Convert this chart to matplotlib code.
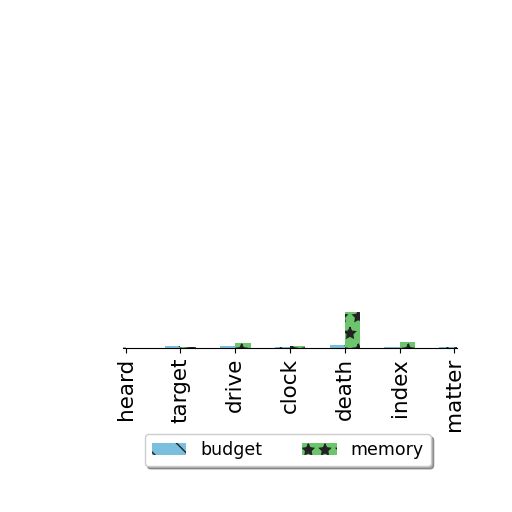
import matplotlib
matplotlib.use("Agg")
import matplotlib.pyplot as plt
import numpy as np

categories = ["heard", "target", "drive", "clock", "death", "index", "matter"]
budget = [0.2, 0.4, 0.5, 0.3, 0.6, 0.3, 0.2]
memory = [0.1, 0.3, 1.0, 0.4, 7.5, 1.2, 0.2]

fig = plt.figure(figsize=(5.12, 5.12), dpi=100)
ax = fig.add_axes([0.240, 0.320, 0.653, 0.56])
x = np.arange(len(categories))
w = 0.28
ax.bar(x - w / 2, budget, w, color="#7bbfde", hatch="\\", edgecolor="#222222", linewidth=0, label="budget")
ax.bar(x + w / 2, memory, w, color="#6cc46c", hatch="*", edgecolor="#222222", linewidth=0, label="memory")
ax.set_xticks(x)
ax.set_xticklabels(categories, rotation=90, fontsize=15.5)
ax.set_xlim(-0.05, 6.05)
ax.set_ylim(0, 60)
ax.set_yticks([])
for s in ["top", "right", "left"]:
    ax.spines[s].set_visible(False)
ax.legend(loc="upper center", bbox_to_anchor=(0.562, 0.152), bbox_transform=fig.transFigure,
          ncol=2, fontsize=12.5, frameon=True, shadow=True, columnspacing=2.3,
          handlelength=2.0, borderaxespad=0)
fig.savefig("out.png", dpi=100)
